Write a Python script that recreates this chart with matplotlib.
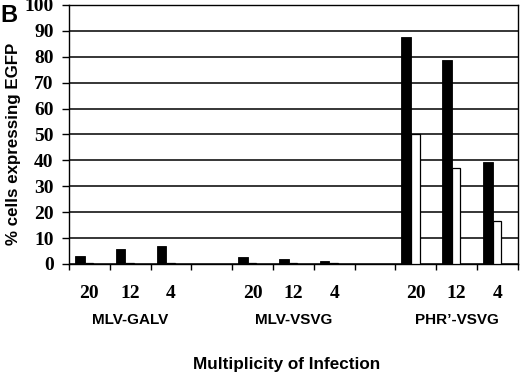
import numpy as np
import matplotlib
matplotlib.use("Agg")
import matplotlib.pyplot as plt
import matplotlib.transforms as mtransforms

# data
groups = ["MLV-GALV", "MLV-VSVG", "PHR\u2019-VSVG"]
moi = ["20", "12", "4"]
black_vals = [[3.2, 5.8, 6.8],
              [2.8, 1.9, 1.0],
              [87.8, 78.6, 39.4]]
white_vals = [[0.3, 0.3, 0.3],
              [0.5, 0.4, 0.3],
              [50.2, 37.2, 16.5]]
yticks = [0, 10, 20, 30, 40, 50, 60, 70, 80, 90, 100]

SANS = "Liberation Sans"
SERIF = "Liberation Serif"

fig = plt.figure(figsize=(5.2, 3.75), dpi=100)
ax = fig.add_axes([0.1327, 0.296, 0.8633, 0.6907])

n_slots = len(groups) * (len(moi) + 1) - 1
centers = []
for g in range(len(groups)):
    for i in range(len(moi)):
        slot = g * (len(moi) + 1) + i
        centers.append(slot)
        ax.bar(slot - 0.354, black_vals[g][i], width=0.235, align="edge",
               color="black", edgecolor="black", linewidth=0.6, zorder=3)
        ax.bar(slot - 0.119, white_vals[g][i], width=0.21, align="edge",
               color="white", edgecolor="black", linewidth=0.9, zorder=3)

ax.set_xlim(-0.5, n_slots - 0.5)
ax.set_ylim(0, 100)

# gridlines
ax.set_yticks(yticks)
ax.yaxis.grid(True, color="black", linewidth=1.1, zorder=0)
ax.set_axisbelow(True)
ax.tick_params(axis="y", direction="out", length=5, width=1.0, pad=6)
for lab in ax.get_yticklabels():
    lab.set_fontfamily(SERIF)
    lab.set_fontweight("bold")
    lab.set_fontsize(14)

# x ticks at slot boundaries, labels at bar pairs
ax.set_xticks(np.arange(-0.5, n_slots, 1.0))
ax.set_xticklabels([])
ax.tick_params(axis="x", which="major", direction="out", length=4.5, width=1.0)
ax.set_xticks(centers, minor=True)
ax.set_xticklabels(moi * len(groups), minor=True, fontfamily=SERIF,
                   fontweight="bold", fontsize=14)
ax.tick_params(axis="x", which="minor", length=0, pad=15)

trans = mtransforms.blended_transform_factory(ax.transData, ax.transAxes)
for g, name in enumerate(groups):
    mid = g * (len(moi) + 1) + 1
    ax.text(mid, -0.215, name, transform=trans, ha="center", va="center",
            fontfamily=SANS, fontweight="bold", fontsize=11)

for sp in ax.spines.values():
    sp.set_linewidth(1.0)
    sp.set_color("black")

ax.set_ylabel("% cells expressing EGFP", fontfamily=SANS, fontweight="bold",
              fontsize=12.2)
ax.yaxis.set_label_coords(-0.108, 0.463)
fig.text(0.552, 0.027, "Multiplicity of Infection", ha="center", va="center",
         fontfamily=SANS, fontweight="bold", fontsize=12.3)
fig.text(0.0, 0.99, "B", ha="left", va="top", fontfamily=SANS,
         fontweight="bold", fontsize=17)

fig.savefig("out.png", dpi=100)
